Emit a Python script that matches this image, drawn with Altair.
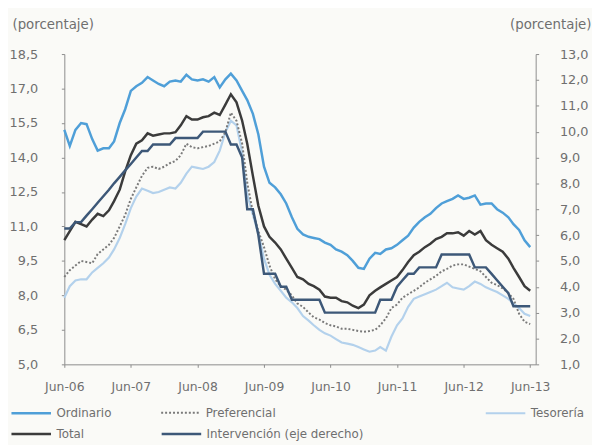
import altair as alt
import pandas as pd

# Monthly dates Jun-06 .. Jun-13 (85 points)
fechas = pd.date_range("2006-06-01", "2013-06-01", freq="MS").strftime("%Y-%m-%dT00:00:00").tolist()

ordinario = [15.2, 14.5, 15.2, 15.5, 15.45, 14.8, 14.3, 14.4, 14.4, 14.7,
             15.5, 16.1, 16.9, 17.1, 17.25, 17.5, 17.35, 17.2, 17.1, 17.3,
             17.35, 17.3, 17.6, 17.4, 17.35, 17.4, 17.3, 17.5, 17.05, 17.4,
             17.65, 17.35, 16.9, 16.5, 15.9, 15.0, 13.6, 12.9, 12.7, 12.4,
             12.0, 11.4, 10.9, 10.65, 10.55, 10.5, 10.45, 10.3, 10.2, 10.0,
             9.9, 9.75, 9.5, 9.2, 9.15, 9.6, 9.85, 9.8, 10.0, 10.05,
             10.2, 10.4, 10.6, 10.95, 11.2, 11.4, 11.55, 11.8, 12.0, 12.1,
             12.2, 12.35, 12.2, 12.25, 12.35, 11.95, 12.0, 12.0, 11.75, 11.6,
             11.4, 11.1, 10.85, 10.4, 10.1]

total = [10.4, 10.8, 11.2, 11.1, 11.0, 11.3, 11.55, 11.45, 11.7, 12.1,
         12.6, 13.4, 14.1, 14.6, 14.75, 15.05, 14.95, 15.0, 15.05, 15.05,
         15.1, 15.4, 15.8, 15.65, 15.65, 15.75, 15.8, 15.95, 15.85, 16.3,
         16.75, 16.4, 15.6, 14.6, 13.2, 11.9, 11.0, 10.55, 10.3, 10.0,
         9.6, 9.2, 8.8, 8.7, 8.5, 8.4, 8.25, 7.95, 7.9, 7.9,
         7.75, 7.7, 7.55, 7.45, 7.6, 8.0, 8.2, 8.35, 8.5, 8.65,
         8.8, 9.1, 9.45, 9.75, 9.9, 10.1, 10.25, 10.45, 10.55, 10.7,
         10.7, 10.75, 10.6, 10.8, 10.65, 10.8, 10.4, 10.2, 10.05, 9.9,
         9.6, 9.2, 8.8, 8.4, 8.2]

preferencial = [8.8, 9.1, 9.3, 9.5, 9.45, 9.4, 9.8, 10.0, 10.2, 10.5,
                11.0, 11.5, 12.2, 12.7, 13.2, 13.55, 13.6, 13.5, 13.6, 13.75,
                13.85, 14.1, 14.6, 14.45, 14.4, 14.45, 14.5, 14.6, 14.7, 15.1,
                15.95, 15.6, 14.6, 12.9, 11.6, 10.8, 10.1, 9.3, 8.7, 8.4,
                8.25, 8.0, 7.65, 7.5, 7.25, 7.05, 6.95, 6.8, 6.7, 6.65,
                6.55, 6.55, 6.5, 6.45, 6.42, 6.45, 6.5, 6.7, 7.0, 7.45,
                7.6, 7.9, 8.05, 8.2, 8.35, 8.55, 8.7, 8.85, 9.05, 9.15,
                9.3, 9.35, 9.35, 9.25, 9.15, 9.05, 8.8, 8.55, 8.45, 8.3,
                8.1, 7.85, 7.2, 6.85, 6.75]

tesoreria = [7.9, 8.4, 8.65, 8.7, 8.7, 9.0, 9.2, 9.4, 9.65, 10.0,
             10.5, 11.1, 11.8, 12.3, 12.65, 12.55, 12.45, 12.5, 12.6, 12.7,
             12.65, 12.9, 13.3, 13.6, 13.55, 13.5, 13.6, 13.8, 14.3, 15.1,
             15.6, 15.4, 14.2, 12.4, 11.5, 10.7, 9.6, 8.9, 8.5, 8.2,
             7.9, 7.7, 7.45, 7.1, 6.9, 6.7, 6.5, 6.35, 6.25, 6.1,
             5.95, 5.9, 5.85, 5.75, 5.65, 5.55, 5.6, 5.75, 5.6, 6.2,
             6.7, 7.0, 7.5, 7.85, 7.95, 8.05, 8.15, 8.25, 8.4, 8.55,
             8.35, 8.3, 8.25, 8.4, 8.6, 8.5, 8.35, 8.25, 8.15, 8.0,
             7.85, 7.65, 7.45, 7.2, 7.1]

intervencion = [6.25, 6.25, 6.5, 6.5, 6.75, 7.0, 7.25, 7.5, 7.75, 8.0,
                8.25, 8.5, 8.75, 9.0, 9.25, 9.25, 9.5, 9.5, 9.5, 9.5,
                9.75, 9.75, 9.75, 9.75, 9.75, 10.0, 10.0, 10.0, 10.0, 10.0,
                9.5, 9.5, 9.0, 7.0, 7.0, 6.0, 4.5, 4.5, 4.5, 4.0,
                4.0, 3.5, 3.5, 3.5, 3.5, 3.5, 3.5, 3.0, 3.0, 3.0,
                3.0, 3.0, 3.0, 3.0, 3.0, 3.0, 3.0, 3.5, 3.5, 3.5,
                4.0, 4.25, 4.5, 4.5, 4.75, 4.75, 4.75, 4.75, 5.25, 5.25,
                5.25, 5.25, 5.25, 5.25, 4.75, 4.75, 4.75, 4.5, 4.25, 4.0,
                3.75, 3.25, 3.25, 3.25, 3.25]

left_ticks = [5.0, 6.5, 8.0, 9.5, 11.0, 12.5, 14.0, 15.5, 17.0, 18.5]
right_ticks = [1, 2, 3, 4, 5, 6, 7, 8, 9, 10, 11, 12, 13]
x_tick_years = [2006, 2007, 2008, 2009, 2010, 2011, 2012, 2013]

FONT = "DejaVu Sans"
LABEL_COLOR = "#6f6f6f"
AXIS_COLOR = "#8c8c8c"

df = pd.DataFrame({"fecha": fechas, "Ordinario": ordinario, "Total": total,
                   "Preferencial": preferencial, "Tesorería": tesoreria,
                   "Intervención (eje derecho)": intervencion})
long = df.melt("fecha", var_name="serie", value_name="valor")

x_enc = alt.X("fecha:T",
              scale=alt.Scale(domain=[alt.DateTime(year=2006, month=6, date=1),
                                      alt.DateTime(year=2013, month=7, date=1)]),
              axis=alt.Axis(values=[alt.DateTime(year=y, month=6, date=1) for y in x_tick_years],
                            format="%b-%y", title=None, grid=False, labelFlush=False,
                            labelOverlap=False,
                            labelFont=FONT, labelFontSize=12.5, labelColor=LABEL_COLOR,
                            domainColor=AXIS_COLOR, tickColor=AXIS_COLOR, tickSize=3,
                            labelPadding=13))

left_axis = alt.Axis(values=left_ticks, title="(porcentaje)", grid=False,
                     labelExpr="replace(format(datum.value, '.1f'), '.', ',')",
                     labelFont=FONT, labelFontSize=13, labelColor=LABEL_COLOR,
                     domainColor=AXIS_COLOR, tickColor=AXIS_COLOR, tickSize=3,
                     labelPadding=24,
                     titleAngle=0, titleX=-53, titleY=-30, titleAlign="left",
                     titleBaseline="middle", titleFont=FONT, titleFontSize=13.5,
                     titleFontWeight="normal", titleColor=LABEL_COLOR)

right_axis = alt.Axis(values=right_ticks, title="(porcentaje)", grid=False, orient="right",
                      labelExpr="replace(format(datum.value, '.1f'), '.', ',')",
                      labelFont=FONT, labelFontSize=13, labelColor=LABEL_COLOR,
                      domainColor=AXIS_COLOR, tickColor=AXIS_COLOR, tickSize=3,
                      labelPadding=21,
                      titleAngle=0, titleX=56, titleY=-30, titleAlign="right",
                      titleBaseline="middle", titleFont=FONT, titleFontSize=13.5,
                      titleFontWeight="normal", titleColor=LABEL_COLOR)

left_scale = alt.Scale(domain=[5, 18.5], nice=False, zero=False)
right_scale = alt.Scale(domain=[1, 13], nice=False, zero=False)

ROW1, ROW2 = 342, 363


def series_layer(name, color, width, lx, ly, y_scale, y_axis, dash=None):
    legend_kwargs = dict(orient="none", legendX=lx, legendY=ly, title=None,
                         symbolType="stroke", symbolSize=1600, symbolStrokeWidth=width,
                         symbolStrokeColor=color,
                         labelFont=FONT, labelFontSize=12, labelColor=LABEL_COLOR,
                         labelOffset=4, padding=0)
    mark_kwargs = dict(strokeWidth=width, interpolate="linear")
    if dash is not None:
        legend_kwargs["symbolDash"] = dash
        mark_kwargs["strokeDash"] = dash
    return (alt.Chart(long)
            .transform_filter(alt.datum.serie == name)
            .mark_line(**mark_kwargs)
            .encode(x=x_enc,
                    y=alt.Y("valor:Q", scale=y_scale, axis=y_axis),
                    color=alt.Color("serie:N",
                                    scale=alt.Scale(domain=[name], range=[color]),
                                    legend=alt.Legend(**legend_kwargs))))


ord_l = series_layer("Ordinario", "#4f9fd8", 2.5, -55, ROW1, left_scale, left_axis)
tes_l = series_layer("Tesorería", "#b3d1ec", 2.2, 425, ROW1, left_scale, left_axis)
pref_l = series_layer("Preferencial", "#7a7a7a", 2, 97, ROW1, left_scale, left_axis, dash=[2, 2])
tot_l = series_layer("Total", "#3b3b3b", 2.5, -55, ROW2, left_scale, left_axis)
int_l = series_layer("Intervención (eje derecho)", "#3d5878", 2.5, 97, ROW2, right_scale, right_axis)

left = alt.layer(ord_l, tes_l, pref_l, tot_l).resolve_scale(color="independent")

chart = (alt.layer(left, int_l)
         .resolve_scale(y="independent", color="independent")
         .properties(width=477, height=314,
                     autosize=alt.AutoSizeParams(type="none"),
                     padding={"left": 57, "top": 44, "right": 57, "bottom": 79},
                     background="#fafaf7")
         .configure_view(stroke=None))

chart.save("out.html", embed_options={"renderer": "svg", "actions": False})
